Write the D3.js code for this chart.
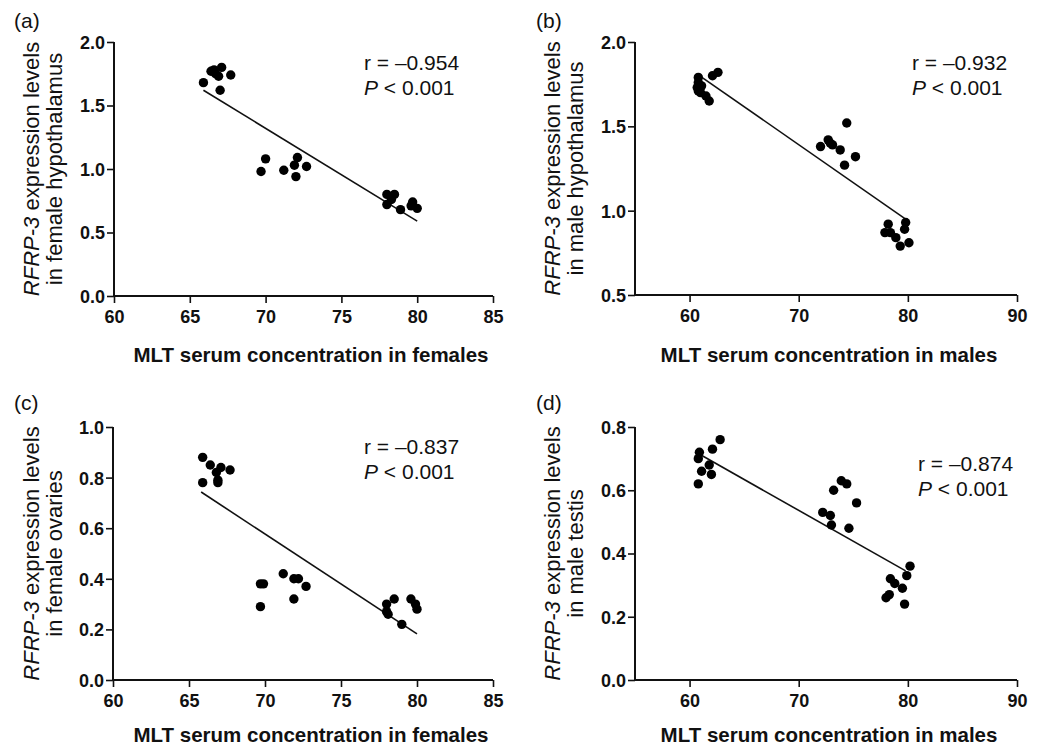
<!DOCTYPE html>
<html>
<head>
<meta charset="utf-8">
<script src="https://d3js.org/d3.v7.min.js"></script>
<style>
  body { margin: 0; background: #fff; }
  svg text { font-family: "Liberation Sans", Arial, sans-serif; fill: #111; }
</style>
</head>
<body>
<svg id="chart" width="1040" height="753"></svg>
<script>
// (a) female hypothalamus
var aX = [65.9, 66.4, 66.6, 66.9, 67.1, 67.0, 67.7, 66.7,
          69.7, 70.0, 71.2, 71.9, 72.1, 72.0, 72.7,
          78.0, 78.5, 78.0, 78.3, 78.9, 79.7, 79.6, 80.0];
var aY = [1.68, 1.77, 1.78, 1.73, 1.80, 1.62, 1.74, 1.75,
          0.98, 1.08, 0.99, 1.03, 1.09, 0.94, 1.02,
          0.80, 0.80, 0.72, 0.76, 0.68, 0.74, 0.71, 0.69];
var aFit = [[65.9, 1.62], [80.0, 0.59]];

// (b) male hypothalamus
var bX = [60.8, 60.8, 60.7, 60.8, 61.0, 61.5, 61.8, 62.1, 62.6, 61.1,
          72.0, 72.7, 73.1, 73.8, 74.4, 74.2, 75.2, 72.9,
          77.9, 78.2, 78.4, 78.9, 79.3, 79.7, 79.8, 80.1];
var bY = [1.79, 1.76, 1.73, 1.71, 1.70, 1.68, 1.65, 1.80, 1.82, 1.74,
          1.38, 1.42, 1.39, 1.36, 1.52, 1.27, 1.32, 1.40,
          0.87, 0.92, 0.87, 0.84, 0.79, 0.89, 0.93, 0.81];
var bFit = [[60.7, 1.81], [79.8, 0.95]];

// (c) female ovaries
var cX = [65.9, 65.9, 66.4, 66.8, 67.1, 66.9, 66.9, 67.7,
          69.7, 69.9, 69.7, 71.2, 71.9, 72.2, 71.9, 72.7,
          78.0, 78.5, 78.1, 78.0, 79.0, 79.6, 79.9, 80.0];
var cY = [0.88, 0.78, 0.85, 0.82, 0.84, 0.79, 0.78, 0.83,
          0.38, 0.38, 0.29, 0.42, 0.40, 0.40, 0.32, 0.37,
          0.30, 0.32, 0.26, 0.27, 0.22, 0.32, 0.30, 0.28];
var cFit = [[65.8, 0.743], [80.0, 0.182]];

// (d) male testis
var dX = [60.9, 60.8, 61.1, 60.8, 61.8, 62.0, 62.1, 62.8,
          72.2, 72.9, 73.0, 73.2, 73.9, 74.4, 75.3, 74.6,
          78.4, 78.0, 78.3, 78.8, 79.5, 79.7, 79.9, 80.2];
var dY = [0.72, 0.70, 0.66, 0.62, 0.68, 0.65, 0.73, 0.76,
          0.53, 0.52, 0.49, 0.60, 0.63, 0.62, 0.56, 0.48,
          0.32, 0.26, 0.27, 0.305, 0.29, 0.24, 0.33, 0.36];
var dFit = [[60.6, 0.72], [79.8, 0.345]];

var panels = [
  { label: "(a)", xs: aX, ys: aY, fit: aFit, xDom: [60, 85], xTicks: [60, 65, 70, 75, 80, 85],
    yDom: [0, 2], yTicks: [0, 0.5, 1, 1.5, 2], yTitle2: "in female hypothalamus",
    xTitle: "MLT serum concentration in females", r: "r = \u20130.954",
    left: 114, right: 493, top: 42, bottom: 296, labX: 14, labY: 28, yT1: 31, yT2: 54,
    xTitleY: 362, xTitleX: 311, rX: 364, rY: 70 },
  { label: "(b)", xs: bX, ys: bY, fit: bFit, xDom: [55, 90], xTicks: [60, 70, 80, 90],
    yDom: [0.5, 2], yTicks: [0.5, 1, 1.5, 2], yTitle2: "in male hypothalamus",
    xTitle: "MLT serum concentration in males", r: "r = \u20130.932",
    left: 635, right: 1017, top: 42, bottom: 295, labX: 536, labY: 28, yT1: 552, yT2: 575,
    xTitleY: 362, xTitleX: 829, rX: 912, rY: 70 },
  { label: "(c)", xs: cX, ys: cY, fit: cFit, xDom: [60, 85], xTicks: [60, 65, 70, 75, 80, 85],
    yDom: [0, 1], yTicks: [0, 0.2, 0.4, 0.6, 0.8, 1.0], yTitle2: "in female ovaries",
    xTitle: "MLT serum concentration in females", r: "r = \u20130.837",
    left: 113, right: 493, top: 427, bottom: 680, labX: 14, labY: 410, yT1: 31, yT2: 54,
    xTitleY: 742, xTitleX: 311, rX: 364, rY: 454 },
  { label: "(d)", xs: dX, ys: dY, fit: dFit, xDom: [55, 90], xTicks: [60, 70, 80, 90],
    yDom: [0, 0.8], yTicks: [0, 0.2, 0.4, 0.6, 0.8], yTitle2: "in male testis",
    xTitle: "MLT serum concentration in males", r: "r = \u20130.874",
    left: 635, right: 1017, top: 427, bottom: 680, labX: 536, labY: 410, yT1: 552, yT2: 575,
    xTitleY: 742, xTitleX: 829, rX: 918, rY: 471 }
];

var svg = d3.select("#chart");

panels.forEach(function (p) {
  var x = d3.scaleLinear().domain(p.xDom).range([p.left, p.right]);
  var y = d3.scaleLinear().domain(p.yDom).range([p.bottom, p.top]);
  var g = svg.append("g");

  // axes
  var xAxis = d3.axisBottom(x).tickValues(p.xTicks).tickSize(7).tickSizeOuter(0).tickFormat(d3.format("d"));
  var yAxis = d3.axisLeft(y).tickValues(p.yTicks).tickSize(7).tickSizeOuter(0).tickFormat(d3.format(".1f"));

  var gx = g.append("g").attr("transform", "translate(0," + p.bottom + ")").call(xAxis);
  var gy = g.append("g").attr("transform", "translate(" + p.left + ",0)").call(yAxis);
  [gx, gy].forEach(function (ax) {
    ax.select(".domain").attr("stroke", "#111").attr("stroke-width", 2);
    ax.selectAll(".tick line").attr("stroke", "#111").attr("stroke-width", 1.6);
    ax.selectAll(".tick text").attr("font-size", 18).attr("font-weight", "bold")
      .attr("font-family", "Liberation Sans, Arial, sans-serif").attr("fill", "#111");
  });
  gx.select(".domain").attr("d", "M" + p.left + ",0H" + p.right);
  gx.selectAll(".tick text").attr("dy", "0.95em");
  gy.select(".domain").attr("d", "M0," + p.top + "V" + p.bottom);
  gy.selectAll(".tick text").attr("x", -9).attr("dy", "0.36em");

  // regression line
  g.append("path")
    .datum(p.fit)
    .attr("d", d3.line().x(function (d) { return x(d[0]); }).y(function (d) { return y(d[1]); }))
    .attr("stroke", "#111").attr("stroke-width", 1.6).attr("fill", "none");

  // points
  g.selectAll("circle.pt")
    .data(d3.range(p.xs.length))
    .enter().append("circle")
    .attr("class", "pt")
    .attr("cx", function (i) { return x(p.xs[i]); })
    .attr("cy", function (i) { return y(p.ys[i]); })
    .attr("r", 4.7)
    .attr("fill", "#000");

  // panel label
  g.append("text").attr("x", p.labX).attr("y", p.labY).attr("font-size", 21).text(p.label);

  // y title (two lines)
  var cy = (p.top + p.bottom) / 2;
  var t1 = g.append("text")
    .attr("transform", "translate(" + p.yT1 + "," + cy + ") rotate(-90)")
    .attr("text-anchor", "middle").attr("dy", "0.35em").attr("font-size", 22);
  t1.append("tspan").attr("font-style", "italic").text("RFRP-3");
  t1.append("tspan").text(" expression levels");
  g.append("text")
    .attr("transform", "translate(" + p.yT2 + "," + cy + ") rotate(-90)")
    .attr("text-anchor", "middle").attr("dy", "0.35em").attr("font-size", 22)
    .text(p.yTitle2);

  // x title
  g.append("text").attr("x", p.xTitleX).attr("y", p.xTitleY)
    .attr("text-anchor", "middle").attr("font-size", 20.5).attr("font-weight", "bold")
    .text(p.xTitle);

  // stats
  g.append("text").attr("x", p.rX).attr("y", p.rY).attr("font-size", 21).text(p.r);
  var pt = g.append("text").attr("x", p.rX).attr("y", p.rY + 25).attr("font-size", 21);
  pt.append("tspan").attr("font-style", "italic").text("P");
  pt.append("tspan").text(" < 0.001");
});
</script>
</body>
</html>
